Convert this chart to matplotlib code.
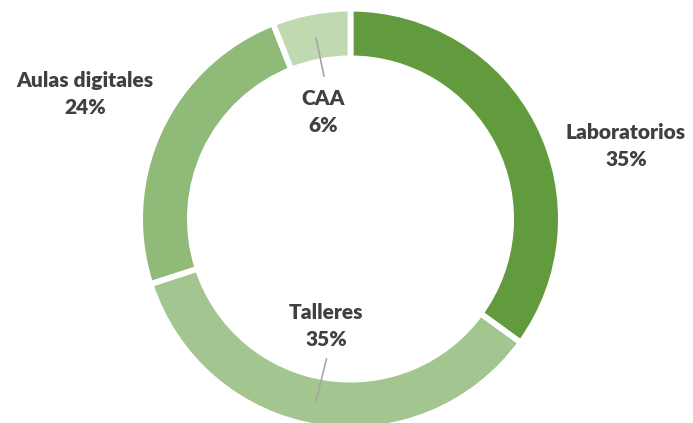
import matplotlib
matplotlib.use("Agg")
import matplotlib.pyplot as plt

categories = ["Laboratorios", "Talleres", "Aulas digitales", "CAA"]
values = [35, 35, 24, 6]
colors = ["#629B3E", "#A3C58F", "#8FBA78", "#C0D9B0"]

W, H = 693, 423
cx, cy, R = 350.5, 219, 207.5
fig = plt.figure(figsize=(W / 100, H / 100), dpi=100)
ax = fig.add_axes([0, 0, 1, 1])

ax.pie(values, colors=colors, startangle=90, counterclock=False, radius=1.014,
       wedgeprops=dict(width=0.24, edgecolor="white", linewidth=4.2))
ax.set_xlim(-cx / R, (W - cx) / R)
ax.set_ylim(-(H - cy) / R, cy / R)
ax.set_aspect("equal")
ax.axis("off")

def p(x, y):
    return ((x - cx) / R, (cy - y) / R)

txt = dict(fontsize=15, fontweight="heavy", color="#404040", family="Lato",
           ha="center", va="center", linespacing=1.45)
labels = [f"{c}\n{v}%" for c, v in zip(categories, values)]
pos = [(626, 146), (326, 326), (85, 94), (323, 112)]
for lab, (x, y) in zip(labels, pos):
    ax.text(*p(x, y), lab, **txt)

for (x1, y1), (x2, y2) in [((316, 38), (324, 76)), ((326.5, 359), (316, 401))]:
    a, b = p(x1, y1), p(x2, y2)
    ax.plot([a[0], b[0]], [a[1], b[1]], color="#A6A6A6", lw=1.2)

fig.savefig("out.png", dpi=100)
